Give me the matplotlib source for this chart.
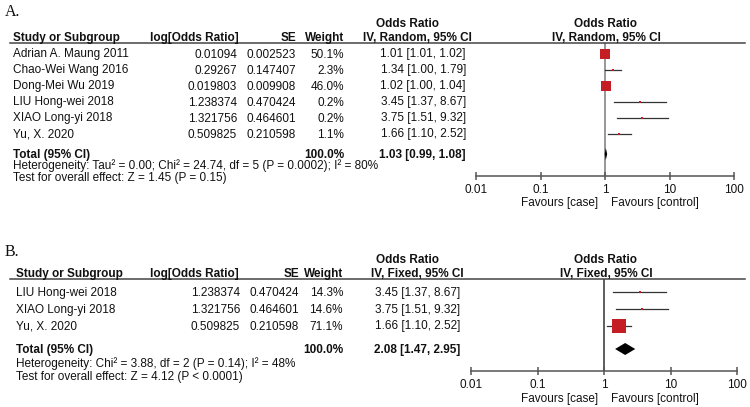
import matplotlib
matplotlib.use("Agg")
import matplotlib.pyplot as plt
from matplotlib.lines import Line2D

plt.rcParams['font.family'] = ['Liberation Sans', 'DejaVu Sans']

W, H = 750, 407

# ---- data, panel A (random effects) ----
studies_a = ["Adrian A. Maung 2011", "Chao-Wei Wang 2016", "Dong-Mei Wu 2019",
             "LIU Hong-wei 2018", "XIAO Long-yi 2018", "Yu, X. 2020"]
logor_a = ["0.01094", "0.29267", "0.019803", "1.238374", "1.321756", "0.509825"]
se_a = ["0.002523", "0.147407", "0.009908", "0.470424", "0.464601", "0.210598"]
weight_a = [50.1, 2.3, 46.0, 0.2, 0.2, 1.1]
or_a = [1.01, 1.34, 1.02, 3.45, 3.75, 1.66]
lo_a = [1.01, 1.00, 1.00, 1.37, 1.51, 1.10]
hi_a = [1.02, 1.79, 1.04, 8.67, 9.32, 2.52]
total_a = (1.03, 0.99, 1.08)
het_a = "Heterogeneity: Tau² = 0.00; Chi² = 24.74, df = 5 (P = 0.0002); I² = 80%"
test_a = "Test for overall effect: Z = 1.45 (P = 0.15)"

# ---- data, panel B (fixed effects) ----
studies_b = ["LIU Hong-wei 2018", "XIAO Long-yi 2018", "Yu, X. 2020"]
logor_b = ["1.238374", "1.321756", "0.509825"]
se_b = ["0.470424", "0.464601", "0.210598"]
weight_b = [14.3, 14.6, 71.1]
or_b = [3.45, 3.75, 1.66]
lo_b = [1.37, 1.51, 1.10]
hi_b = [8.67, 9.32, 2.52]
total_b = (2.08, 1.47, 2.95)
het_b = "Heterogeneity: Chi² = 3.88, df = 2 (P = 0.14); I² = 48%"
test_b = "Test for overall effect: Z = 4.12 (P < 0.0001)"

ticks = [0.01, 0.1, 1, 10, 100]
tick_labels = ["0.01", "0.1", "1", "10", "100"]

FS = 8.5
RED = "#c41e24"

fig = plt.figure(figsize=(W / 100, H / 100), dpi=100)


def txt(x, y, s, ha="left", bold=False, **kw):
    # x, y in pixels from top-left, y = visual centre of the caps
    fig.text(x / W, 1 - (y + 4) / H, s, ha=ha, va="baseline", fontsize=FS,
             fontweight="bold" if bold else "normal", color="#111111", **kw)


def hline(x0, x1, y, color="#444444"):
    fig.add_artist(Line2D([x0 / W, x1 / W], [1 - y / H, 1 - y / H],
                          transform=fig.transFigure, color=color, lw=1.1))


def panel(label, y_lab, y_h1, y_h2, name_x, cols, method, studies, logor, se,
          weight, orv, lo, hi, total, het, test, rows, y_tot, y_het, y_test,
          ax_box, vcolor, fav_y):
    fig.text(5 / W, 1 - (y_lab + 5) / H, label, fontsize=11.5,
             family="Liberation Serif", color="#111111")
    log_r, se_r, w_r, or_r = cols
    # headers
    txt(407, y_h1, "Odds Ratio", ha="center", bold=True)
    txt(417, y_h2, "IV, %s, 95%% CI" % method, ha="center", bold=True)
    txt(605, y_h1, "Odds Ratio", ha="center", bold=True)
    txt(606, y_h2, "IV, %s, 95%% CI" % method, ha="center", bold=True)
    txt(name_x, y_h2, "Study or Subgroup", bold=True)
    txt(150, y_h2, "log[Odds Ratio]", bold=True)
    txt(se_r, y_h2, "SE", ha="right", bold=True)
    txt(w_r, y_h2, "Weight", ha="right", bold=True)
    hline(10, 745, y_h2 + 5.5)

    for i, y in enumerate(rows):
        txt(name_x, y, studies[i])
        txt(log_r, y, logor[i], ha="right")
        txt(se_r, y, se[i], ha="right")
        txt(w_r, y, "%.1f%%" % weight[i], ha="right")
        txt(or_r, y, "%.2f [%.2f, %.2f]" % (orv[i], lo[i], hi[i]), ha="right")

    txt(name_x, y_tot, "Total (95% CI)", bold=True)
    txt(w_r, y_tot, "100.0%", ha="right", bold=True)
    txt(or_r, y_tot, "%.2f [%.2f, %.2f]" % total, ha="right", bold=True)
    txt(name_x, y_het, het)
    txt(name_x, y_test, test)

    # plot area
    x0, x1, top, bot = ax_box
    ax = fig.add_axes([x0 / W, 1 - bot / H, (x1 - x0) / W, (bot - top) / H])
    ax.set_xscale("log")
    ax.set_xlim(0.01, 100)
    ax.set_ylim(bot, top)
    ax.patch.set_visible(False)
    for s in ["top", "left", "right"]:
        ax.spines[s].set_visible(False)
    ax.spines["bottom"].set_color("#555555")
    ax.spines["bottom"].set_linewidth(1.1)
    ax.set_yticks([])
    ax.set_xticks(ticks)
    ax.set_xticklabels(tick_labels)
    ax.xaxis.set_minor_locator(matplotlib.ticker.NullLocator())
    ax.tick_params(axis="x", direction="inout", length=6, width=1.1,
                   color="#555555", labelsize=FS, labelcolor="#111111", pad=3)

    ax.axvline(1, color=vcolor, lw=1.1, zorder=1)
    for i, y in enumerate(rows):
        ax.plot([lo[i], hi[i]], [y, y], color="#333333", lw=0.9, zorder=2)
        side = max(2.5, 0.205 * weight[i])
        ax.plot(orv[i], y, marker="s", markersize=side * 0.72, color=RED,
                markeredgewidth=0, zorder=3)
    est, tlo, thi = total
    h = 6
    ax.fill([tlo, est, thi, est], [y_tot, y_tot - h, y_tot, y_tot + h],
            color="black", lw=0, zorder=3)

    txt(598, fav_y, "Favours [case]", ha="right")
    txt(611, fav_y, "Favours [control]")


panel("A.", 11, 23, 37, 13, (237, 296, 344, 466), "Random",
      studies_a, logor_a, se_a, weight_a, or_a, lo_a, hi_a, total_a,
      het_a, test_a, [53.5, 69.5, 85.5, 101.5, 117.5, 133.5], 154, 165.5, 177,
      (476, 734, 42.5, 176), "#7a7a7a", 202)

panel("B.", 251, 259, 273, 16, (240, 299, 343, 460), "Fixed",
      studies_b, logor_b, se_b, weight_b, or_b, lo_b, hi_b, total_b,
      het_b, test_b, [292, 309, 325.5], 349, 363, 376,
      (471, 737, 278.5, 371), "#333333", 398)

fig.savefig("out.png", dpi=100)
